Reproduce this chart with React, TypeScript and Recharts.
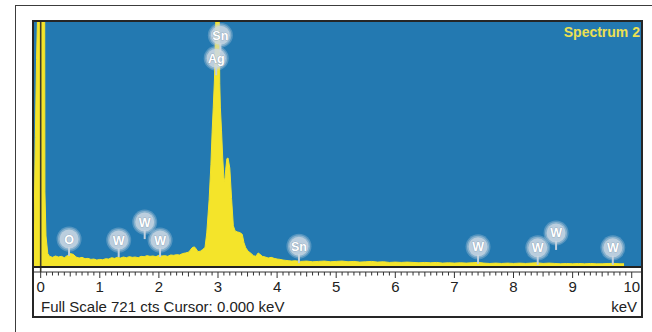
import { ComposedChart, Area, Scatter, XAxis, YAxis, ReferenceLine } from "recharts";

// EDS spectrum (keV / counts)
const SPECTRUM_KEV = [
  -0.14, -0.13, -0.11, -0.09, -0.07, -0.05, -0.02, 0.02, 0.05, 0.068, 0.072, 0.09, 0.12,
  0.15, 0.2, 0.25, 0.3, 0.35, 0.4, 0.45, 0.5, 0.55, 0.6,
  0.65, 0.7, 0.75, 0.8, 0.85, 0.9, 0.95, 1.0, 1.05, 1.1,
  1.15, 1.2, 1.25, 1.3, 1.35, 1.4, 1.45, 1.5, 1.55, 1.6,
  1.65, 1.7, 1.75, 1.8, 1.85, 1.9, 1.95, 2.0, 2.05, 2.1,
  2.15, 2.2, 2.25, 2.3, 2.35, 2.4, 2.45, 2.5, 2.53, 2.56,
  2.6, 2.63, 2.66, 2.7, 2.74,
  2.78, 2.81, 2.85, 2.88, 2.9, 2.92, 2.94, 2.965, 2.98, 3.0,
  3.02, 3.03, 3.04, 3.06, 3.08, 3.1, 3.115, 3.13, 3.15, 3.17, 3.2,
  3.23, 3.26, 3.29, 3.33, 3.37, 3.41, 3.44, 3.47, 3.51, 3.55,
  3.6, 3.64, 3.68, 3.71, 3.75,
  3.8, 3.85, 3.9, 3.95, 4.0, 4.05, 4.1, 4.15, 4.2, 4.25, 4.3,
  4.4, 4.5, 4.6, 4.7, 4.8, 4.9, 5.0, 5.1, 5.2, 5.3,
  5.4, 5.5, 5.6, 5.7, 5.8, 5.9, 6.0, 6.1, 6.2, 6.3,
  6.4, 6.5, 6.6, 6.7, 6.8, 6.9, 7.0, 7.1, 7.2, 7.3,
  7.4, 7.5, 7.6, 7.7, 7.8, 7.9, 8.0, 8.1, 8.2, 8.3,
  8.4, 8.5, 8.6, 8.7, 8.8, 8.9, 9.0, 9.1, 9.2, 9.3,
  9.4, 9.5, 9.6, 9.7, 9.8, 9.87,
];
const SPECTRUM_CTS = [
  0, 25, 140, 380, 610, 760, 900, 900, 820, 760, 220, 90, 38,
  30, 27, 31, 28, 30, 26, 32, 38, 36, 28,
  25, 27, 23, 24, 21, 22, 19, 21, 20, 23,
  22, 26, 24, 27, 25, 28, 26, 29, 27, 28,
  26, 30, 29, 32, 30, 31, 29, 33, 31, 32,
  30, 34, 33, 35, 34, 38, 40, 42, 48, 55,
  58, 52, 44, 45, 50,
  56, 99, 197, 300, 394, 470, 550, 740, 800, 810,
  740, 540, 470, 400, 320, 262, 250, 285, 318, 320, 290,
  200, 120, 105, 102, 100, 95, 70, 55, 45, 40,
  32, 30, 40, 36, 30,
  28, 25, 27, 24, 22, 21, 19, 18, 17, 16, 17,
  15, 16, 14, 15, 16, 14, 15, 16, 14, 15,
  13, 14, 15, 13, 14, 12, 13, 12, 13, 12,
  11, 12, 11, 12, 10, 11, 10, 11, 10, 11,
  12, 10, 9, 10, 9, 10, 9, 10, 9, 10,
  11, 9, 10, 9, 8, 9, 8, 9, 8, 9,
  8, 8, 9, 9, 8, 8,
];

// element markers (label, position in keV, label height in counts)
const MARKER_LABELS = ["Sn", "Ag", "O", "W", "W", "W", "Sn", "W", "W", "W", "W"];
const MARKER_KEV = [3.04, 2.97, 0.48, 1.32, 1.76, 2.02, 4.37, 7.4, 8.41, 8.72, 9.68];
const MARKER_CTS = [682, 614, 81, 78, 131, 78, 60, 58, 55, 99, 55];

const MAJOR_TICKS = [0, 1, 2, 3, 4, 5, 6, 7, 8, 9, 10];
const FULL_SCALE = 721;

const spectrum = SPECTRUM_KEV.map((keV, i) => ({ keV, cts: SPECTRUM_CTS[i] }));
const markers = MARKER_LABELS.map((el, i) => ({ keV: MARKER_KEV[i], cts: MARKER_CTS[i], el }));
const rulerTicks = Array.from({ length: 101 }, (_, i) => i / 10);

const FONT = "'Liberation Sans', Arial, sans-serif";
const BLUE = "#2379b1";
const YELLOW = "#f4e42a";

function RulerTick(props: any) {
  const { x, y, payload } = props;
  const v = payload.value;
  const major = Math.abs(v - Math.round(v)) < 1e-6;
  const half = !major && Math.abs(v * 2 - Math.round(v * 2)) < 1e-6;
  const len = major ? 6 : half ? 4.5 : 3.5;
  return (
    <g>
      <line x1={x} x2={x} y1={y} y2={y + len} stroke="#333" strokeWidth={1} />
      {major && (
        <text x={x} y={y + 20} textAnchor="middle" fontSize={15} fontFamily={FONT} fill="#222">
          {Math.round(v)}
        </text>
      )}
    </g>
  );
}

function ElementBadge(props: any) {
  const { cx, cy, payload } = props;
  if (cx == null || cy == null) return <g />;
  return (
    <g>
      <line x1={cx} x2={cx} y1={cy + 8} y2={cy + 17} stroke="#c0cfdc" strokeWidth={2} />
      <circle cx={cx} cy={cy} r={12.5} fill="#c6d4e0" fillOpacity={0.3} />
      <circle cx={cx} cy={cy} r={11} fill="#c6d4e0" fillOpacity={0.45} />
      <circle cx={cx} cy={cy} r={9.5} fill="#ccd8e3" fillOpacity={0.75} />
      <text
        x={cx}
        y={cy + 4.5}
        textAnchor="middle"
        fontSize={12.5}
        fontWeight="bold"
        fontFamily={FONT}
        fill="#ffffff"
        stroke="#8499ad"
        strokeWidth={0.7}
        paintOrder="stroke"
      >
        {payload.el}
      </text>
    </g>
  );
}

export default function App() {
  return (
    <div
      style={{
        position: "absolute",
        left: 0,
        top: 0,
        width: 652,
        height: 332,
        overflow: "hidden",
        background: "#fff",
        fontFamily: FONT,
      }}
    >
      {/* outer frame */}
      <div
        style={{
          position: "absolute",
          left: 15,
          top: 5,
          width: 700,
          height: 400,
          borderTop: "1.5px solid #3c3c3c",
          borderLeft: "1.5px solid #3c3c3c",
        }}
      />
      {/* inner frame */}
      <div
        style={{
          position: "absolute",
          left: 32,
          top: 20,
          width: 611,
          height: 298,
          boxSizing: "border-box",
          border: "2px solid #262626",
        }}
      />
      {/* plot background */}
      <div style={{ position: "absolute", left: 34, top: 22, width: 607, height: 244.5, background: BLUE }} />

      <div style={{ position: "absolute", left: 34, top: 22 }}>
        <ComposedChart width={607} height={294} data={spectrum} margin={{ top: 0, right: 0, bottom: 0, left: 0 }}>
          <XAxis
            dataKey="keV"
            type="number"
            domain={[-0.113, 10.157]}
            allowDataOverflow
            ticks={rulerTicks}
            interval={0}
            tickSize={0}
            tickMargin={0}
            tickLine={false}
            height={44}
            axisLine={{ stroke: "#333", strokeWidth: 1 }}
            tick={<RulerTick />}
          />
          <YAxis type="number" hide domain={[-16.2, FULL_SCALE]} allowDataOverflow />
          <Area
            type="linear"
            dataKey="cts"
            baseValue={0}
            stroke={YELLOW}
            strokeWidth={1}
            fill={YELLOW}
            fillOpacity={1}
            isAnimationActive={false}
            dot={false}
            activeDot={false}
          />
          <ReferenceLine x={0} stroke="#3d3b2c" strokeWidth={1.6} />
          <Scatter data={markers} dataKey="cts" shape={<ElementBadge />} isAnimationActive={false} />
        </ComposedChart>
      </div>

      {/* bottom edge of the spectrum window */}
      <div style={{ position: "absolute", left: 34, top: 266, width: 607, height: 2, background: "#222" }} />

      <div
        style={{
          position: "absolute",
          right: 12,
          top: 25,
          fontSize: 14,
          lineHeight: "14px",
          fontWeight: "bold",
          color: "#ece052",
          whiteSpace: "nowrap",
        }}
      >
        Spectrum 2
      </div>
      <div
        style={{
          position: "absolute",
          left: 41,
          top: 299,
          fontSize: 15,
          lineHeight: "15px",
          color: "#222",
          whiteSpace: "nowrap",
        }}
      >
        Full Scale {FULL_SCALE} cts Cursor: 0.000 keV
      </div>
      <div
        style={{
          position: "absolute",
          right: 15,
          top: 299,
          fontSize: 15,
          lineHeight: "15px",
          color: "#222",
          whiteSpace: "nowrap",
        }}
      >
        keV
      </div>
    </div>
  );
}
